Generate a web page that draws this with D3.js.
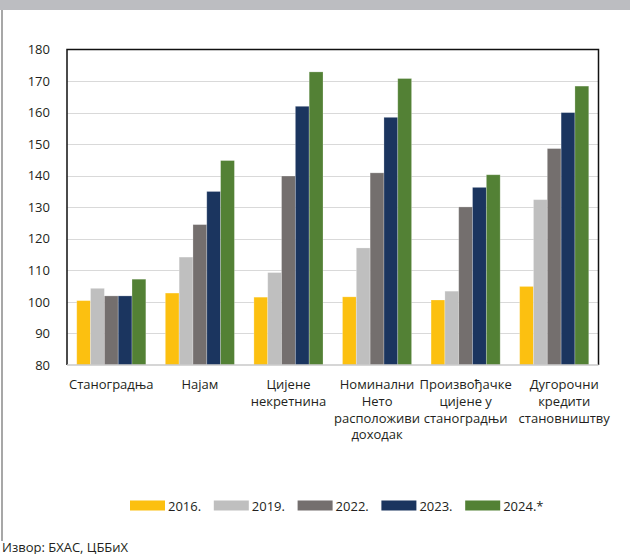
<!DOCTYPE html>
<html>
<head>
<meta charset="utf-8">
<script src="https://cdn.jsdelivr.net/npm/d3@7"></script>
<style>
  html, body { margin: 0; padding: 0; background: #fff; }
  svg { display: block; font-family: "Open Sans", "Noto Sans", sans-serif; }
</style>
</head>
<body>
<svg id="chart" width="630" height="554"></svg>
<script>
// Index values (2015 = 100) by indicator and year
const categories = [
  ["Станоградња"],
  ["Најам"],
  ["Цијене", "некретнина"],
  ["Номинални", "Нето", "расположиви", "доходак"],
  ["Произвођачке", "цијене у", "станоградњи"],
  ["Дугорочни", "кредити", "становништву"]
];
const years = ["2016.", "2019.", "2022.", "2023.", "2024.*"];
const colors = ["#fcc010", "#bfbfbf", "#746f6e", "#1b355f", "#538135"];

const v2016 = [100.4, 102.8, 101.5, 101.6, 100.6, 104.9];
const v2019 = [104.3, 114.2, 109.3, 117.1, 103.4, 132.4];
const v2022 = [101.9, 124.5, 139.9, 140.9, 130.1, 148.6];
const v2023 = [101.9, 135.0, 162.0, 158.5, 136.3, 160.0];
const v2024 = [107.2, 144.8, 172.9, 170.8, 140.3, 168.4];
const series = [v2016, v2019, v2022, v2023, v2024];

const yTicks = [80, 90, 100, 110, 120, 130, 140, 150, 160, 170, 180];

const svg = d3.select("#chart");
const W = 630, H = 554;
const plot = { left: 67, right: 598.5, top: 49.5, bottom: 365 };

// Header band and left rule of the panel
svg.append("rect").attr("x", 0).attr("y", 0).attr("width", W).attr("height", 10)
  .attr("fill", "#bcbdc1");
svg.append("line").attr("x1", 2).attr("x2", 2).attr("y1", 10).attr("y2", 541)
  .attr("stroke", "#8a8a8a").attr("stroke-width", 1.5);

const x0 = d3.scaleBand()
  .domain(d3.range(categories.length))
  .range([plot.left, plot.right])
  .paddingInner(0.22)
  .paddingOuter(0.11);
const x1 = d3.scaleBand()
  .domain(d3.range(years.length))
  .range([0, x0.bandwidth()]);
const y = d3.scaleLinear().domain([80, 180]).range([plot.bottom, plot.top]);

// Gridlines
svg.append("g").selectAll("line")
  .data(yTicks.filter(t => t > 80 && t < 180))
  .join("line")
  .attr("x1", plot.left).attr("x2", plot.right)
  .attr("y1", d => Math.round(y(d)) + 0.5).attr("y2", d => Math.round(y(d)) + 0.5)
  .attr("stroke", "#d9d9d9").attr("stroke-width", 1.2);

// Bars
const groups = svg.append("g").selectAll("g")
  .data(categories.map((c, i) => i))
  .join("g")
  .attr("transform", i => `translate(${x0(i)},0)`);
groups.selectAll("rect")
  .data(i => series.map((s, k) => ({ k, v: s[i] })))
  .join("rect")
  .attr("x", d => x1(d.k))
  .attr("width", x1.bandwidth())
  .attr("y", d => y(d.v))
  .attr("height", d => y(80) - y(d.v))
  .attr("fill", d => colors[d.k])
  .attr("stroke", "rgba(255,255,255,0.3)")
  .attr("stroke-width", 0.8);

// Y axis labels
const yAxis = d3.axisLeft(y).tickValues(yTicks).tickSize(0).tickPadding(17);
const ga = svg.append("g").attr("transform", `translate(${plot.left},0)`).call(yAxis);
ga.select(".domain").remove();
ga.selectAll("text").attr("font-size", 13).attr("fill", "#231f20")
  .attr("font-family", "'Open Sans', sans-serif");

// Plot frame: black on top and sides, light baseline
svg.append("path")
  .attr("d", `M${plot.left},${plot.bottom}V${plot.top}H${plot.right}V${plot.bottom}`)
  .attr("fill", "none").attr("stroke", "#111").attr("stroke-width", 1.5);
svg.append("line").attr("x1", plot.left).attr("x2", plot.right)
  .attr("y1", plot.bottom).attr("y2", plot.bottom)
  .attr("stroke", "#c8c8c8").attr("stroke-width", 1.5);

// Category labels (the last one is nudged right to clear its neighbour)
const labelShift = [0, 0, 0, 0, 0, 10];
const xl = svg.append("g").attr("font-size", 13).attr("fill", "#231f20").attr("text-anchor", "middle");
categories.forEach((lines, i) => {
  const cx = x0(i) + x0.bandwidth() / 2 + labelShift[i];
  lines.forEach((ln, j) => {
    xl.append("text").attr("x", cx).attr("y", 389 + j * 16.8).text(ln);
  });
});

// Legend
const legend = svg.append("g").attr("font-size", 13).attr("fill", "#231f20");
years.forEach((yr, k) => {
  const lx = 130 + k * 83.8;
  legend.append("rect").attr("x", lx).attr("y", 500.5).attr("width", 35).attr("height", 10)
    .attr("fill", colors[k]);
  legend.append("text").attr("x", lx + 38).attr("y", 511).text(yr);
});

// Source note
svg.append("text").attr("x", 2).attr("y", 551.5).attr("font-size", 13).attr("fill", "#231f20")
  .text("Извор: БХАС, ЦББиХ");
</script>
</body>
</html>
